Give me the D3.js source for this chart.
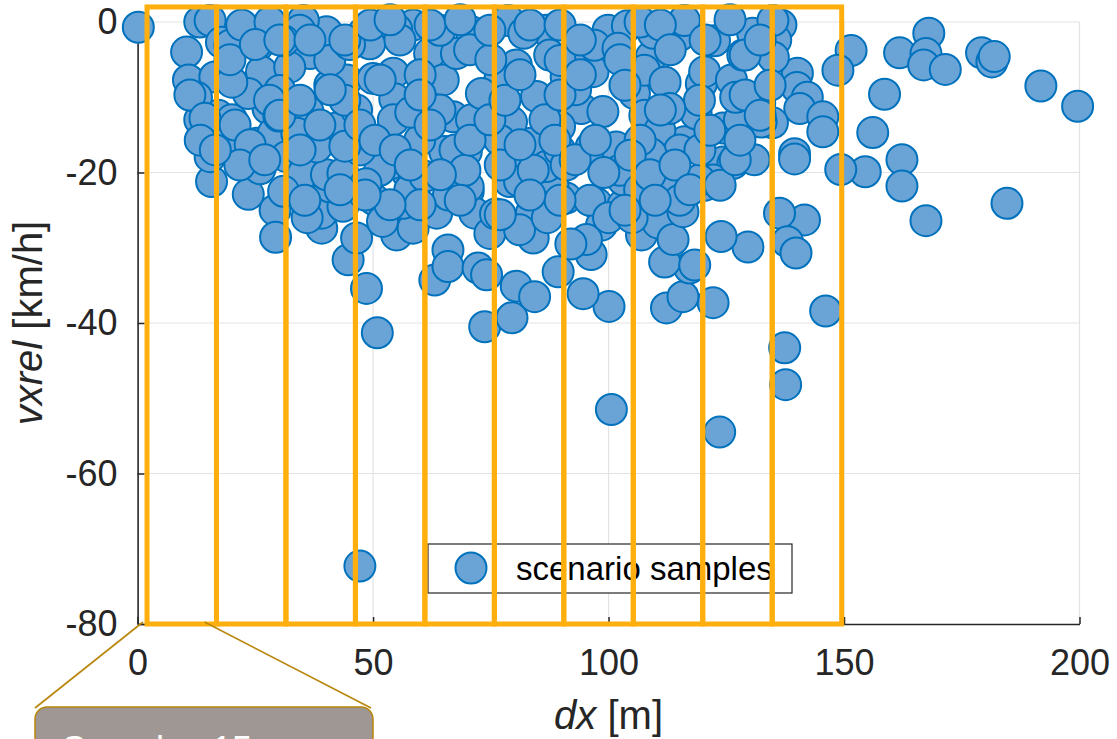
<!DOCTYPE html>
<html>
<head>
<meta charset="utf-8">
<script src="https://cdn.jsdelivr.net/npm/d3@7"></script>
<style>
  html, body { margin: 0; padding: 0; background: #fff; }
  svg { display: block; font-family: "Liberation Sans", Arial, Helvetica, sans-serif; }
</style>
</head>
<body>
<svg id="chart" width="1117" height="739"></svg>
<script>
// samples: dx [m] and vxrel [km/h]
var dxValues = [
  136.6,151.5,148.7,161.8,168,167.4,166.9,171.5,179.2,181.4,181.9,191.8,199.6,158.6,156.1,162.3,162.3,154.5,149.3,184.6,
  167.4,140.1,140,142.2,140.6,145.5,145.5,139.5,139.5,141.6,136.3,138,139.8,135.5,135,134.8,
  0.15,47.2,123.6,100.6,137.6,137.4,146.1,50.9,73.7,79.5,100.1,48.6,80.4,84.3,94.6,112.3,122.2,115.8,117.2,111.9,129.6,123.9,89.3,96.3,
  15.7,23.5,29.2,29.3,36.6,39.1,39.1,44.7,46.5,50.2,55,58.5,63.1,65.9,65.9,56.4,43.6,40.8,63.5,67.7,
  70.2,71.6,74.8,72.3,74.1,83.6,84,91,97.4,98.5,95.3,103.1,107,110.5,113.7,115.8,118.3,120.4,113.7,88.2,79,
  13.2,15.4,10.4,11.5,10.8,16.4,17.8,19.6,22.1,25.6,28.1,26.3,17.1,16.1,20,27.7,23.5,22.1,15.4,25.3,28.8,31.6,35.2,40.1,
  36.2,36.6,40.1,35.2,40.8,42.2,46.5,47.9,49.3,54.3,54.6,54.3,57.1,53.9,58.5,62,65.2,64.9,67,44.4,33.8,32.3,30.2,38,43.6,
  70.9,67.7,78.7,80.4,84.7,86.8,87.5,83.6,86.8,70.9,69.8,70.2,75.5,79.4,80.4,81.1,93.5,96.7,99.9,94.2,98.8,96.3,101.6,
  105.5,109.1,115.1,116.1,107.7,116.1,111.5,119.7,120.4,118.6,124.3,124.3,126.4,126.1,128.5,130.6,132.1,132.4,134.9,
  91,89.6,76.9,84,103.1,122.2,
  89.7,97,107.6,110.9,115.1,119.3,127.8,130.9,96,89.6,76.9,70.5,64.2,64.2,59.9,57.8,51.4,47.2,40.8,34.4,28,19.6,13.2,
  102.4,106.6,115.1,119.3,81.1,
  104,109.5,102,112,93,60,50,73,58,44,48.5,31,36,12.5,20,31,45,55,75,82,91,99,109,113,122.5,127,61,66,52,26,30,76,87,92,100,105,
  11.1,14.3,20.7,23.9,21.7,27,34.5,38.7,44,51.5,55.7,60,62.1,67.4,69.5,77,81.2,86.5,89.7,94,102.4,103.5,106.7,111,119.4,121.5,
  129,132.2,129,134.3,19.6,25,30.2,36.6,44,49.4,53.6,62.1,68.5,74.8,83.3,89.7,94,106.7,111,113.1,120.5,125.8,
  13.3,16.5,30.2,34.5,40.9,47.2,50.4,54.7,57.9,64.3,70.6,74.8,78,81.2,88.6,92.9,97.2,104.6,108.8,114.1,117.3,123.7,126.9,132.2,
  127.9,109.9,103.5,89.7,83.3,77,68.5,60,53.6,48.3,43,35.5
];
var vxrelValues = [
  -0.4,-3.8,-6.4,-4.1,-1.5,-4.2,-5.7,-6.3,-4.1,-5.3,-4.6,-8.5,-11.2,-9.6,-14.7,-18.3,-21.8,-19.9,-19.6,-24.1,
  -26.4,-6.8,-8.7,-10,-11.5,-12.6,-14.6,-17.5,-18.2,-26.3,-25.4,-29.2,-30.7,-2.4,-4.7,-13.4,
  -0.7,-72.3,-54.5,-51.5,-48.2,-43.3,-38.4,-41.3,-40.5,-39.3,-37.8,-35.4,-35.1,-36.5,-36.1,-38,-37.3,-36.5,-32.7,-31.9,-29.9,-28.5,-33.2,-30.9,
  -21.2,-22.9,-25,-28.6,-22.5,-27.4,-25.4,-31.6,-28.7,-23.6,-28.3,-27.4,-34.3,-30.3,-32.5,-24.1,-24.5,-21.9,-25.4,-22.8,
  -22.5,-25.4,-28.1,-32.7,-33.6,-25.4,-28.7,-23.4,-24.1,-27,-28.9,-24.3,-28.3,-26.7,-28.9,-25.2,-32.3,-21.7,-21.4,-21.7,-21.2,
  0,0.2,-4,-8.8,-7.7,-7.3,-2.7,-3.1,-0.4,-3.1,0,-6.6,-12.4,-13.7,-13,-11.5,-9.5,-16.6,-17.9,-16.1,-14.8,-17.9,-20.1,-20.3,
  -11.9,-4.2,-1.3,0.2,-8.4,-14.1,-11.7,-1.5,-2.9,-6.8,-10.2,-13,-19.9,-18.8,-0.4,-4.2,-17.2,-7.7,-12.6,-7.7,-14.8,-6,-9.1,-16.6,-20.1,
  -1.3,-4.2,0.2,-5.7,-9.9,-1.1,-4.4,-16.1,-19.2,-13,-17.2,-21.9,-10.4,-13.3,-17.5,-21.2,-3.3,-6.6,-1.1,-11.5,-11.9,-16.6,-16.6,
  -9.5,-4.6,-1.8,0.2,-12.4,-15.9,-20.5,-8.2,-6.6,-12.2,-14.1,-18.6,-18.8,-7.7,-4.4,-1.5,-10.8,-13.3,0.2,
  -7.3,-13.9,-15.7,-19.7,-21,-21,
  -5.1,-3.1,-6.4,-14.4,-17,-10.4,-13,-18.3,-23.7,-17,-7.7,-3.7,-1.1,-11.7,-15.7,-22.3,-19.7,-17,-5.1,-1.1,-10.4,-17,-13,
  -19.7,-22.3,-23.7,-21,-27.6,
  -0.5,-1.5,-3.5,-8,-9,-7,-7.5,-9.5,-12,-16.5,-21.5,-22.5,-26,-10,-8,-2.5,-3,-1,-5,-1.5,-19,-20,-17.5,-11.5,-2.5,-10,-20.5,-23,-26.5,-19.5,-12.5,-25.5,-26,-29.5,-26,-26,
  -9.7,-12.8,-13.7,-16.3,-19,-18.3,-17,-13.7,-10.4,-7.7,-2.4,-9.7,-13.7,-17,-19.7,-19,-16.3,-13,-9.7,-7,-5,-8.4,-15.7,-11.7,-17,-14.4,
  -4.4,-2.4,-9.7,-8.4,-5,-3,-2.4,-2.4,-2.4,-0.4,0.3,-0.4,0.3,-1.1,-0.4,-0.4,-2.4,0,-0.4,-3.7,-2.4,0.3,
  -15.7,-17,-12.4,-10.4,-9,-13.7,-15.7,-17,-19,-20.3,-15.7,-13,-10.4,-7,-15.7,-18.3,-15.7,-17.7,-20.3,-19,-22.3,-21.7,-18.3,-12.4,
  -15.7,-23.7,-25,-23.7,-23,-25.6,-23.7,-24.3,-24.3,-23,-22.3,-23.7
];
var binEdges = [2, 16.75, 31.5, 46.25, 61, 75.75, 90.5, 105.25, 120, 134.75, 149.5];
var xTicks = [0, 50, 100, 150, 200];
var yTicks = [-80, -60, -40, -20, 0];
var legendLabel = "scenario samples";
var calloutLabel = "Samples 15";

var samples = dxValues.map(function (d, i) { return {dx: d, v: vxrelValues[i]}; });

var svg = d3.select("#chart");
var plotLeft = 137.6, plotRight = 1079.5, plotTop = 22, plotBottom = 624;
var x = d3.scaleLinear().domain([0, 200]).range([plotLeft, plotRight]);
var y = d3.scaleLinear().domain([-80, 0]).range([plotBottom, plotTop]);
var ink = "#262626";
var plainNum = function (d) { return String(d); };

// grid
svg.append("g").selectAll("line")
  .data(xTicks.filter(function (d) { return d > 0; }))
  .enter().append("line")
  .attr("x1", function (d) { return x(d); }).attr("x2", function (d) { return x(d); })
  .attr("y1", plotTop).attr("y2", plotBottom)
  .attr("stroke", "#e3e3e3").attr("stroke-width", 1.2);
svg.append("g").selectAll("line")
  .data(yTicks.filter(function (d) { return d > -80; }))
  .enter().append("line")
  .attr("y1", function (d) { return y(d); }).attr("y2", function (d) { return y(d); })
  .attr("x1", plotLeft).attr("x2", plotRight)
  .attr("stroke", "#e3e3e3").attr("stroke-width", 1.2);

// axes
var xAxis = svg.append("g")
  .attr("transform", "translate(0," + plotBottom + ")")
  .call(d3.axisBottom(x).tickValues(xTicks).tickFormat(plainNum).tickSizeInner(-7).tickSizeOuter(0).tickPadding(25));
var yAxis = svg.append("g")
  .attr("transform", "translate(" + plotLeft + ",0)")
  .call(d3.axisLeft(y).tickValues(yTicks).tickFormat(plainNum).tickSizeInner(-7).tickSizeOuter(0).tickPadding(20));
[xAxis, yAxis].forEach(function (a) {
  a.select(".domain").attr("stroke", ink).attr("stroke-width", 1.6);
  a.selectAll(".tick line").attr("stroke", ink).attr("stroke-width", 1.5);
  a.selectAll(".tick text").attr("fill", ink)
    .style("font-size", "36px").style("font-family", "'Liberation Sans', Arial, sans-serif");
});

// axis labels
var xl = svg.append("text").attr("x", (plotLeft + plotRight) / 2).attr("y", 729)
  .attr("text-anchor", "middle").attr("fill", ink).style("font-size", "40px");
xl.append("tspan").style("font-style", "italic").text("dx");
xl.append("tspan").text(" [m]");
var yl = svg.append("text").attr("transform", "translate(42," + ((plotTop + plotBottom) / 2) + ") rotate(-90)")
  .attr("text-anchor", "middle").attr("fill", ink).style("font-size", "40px");
yl.append("tspan").style("font-style", "italic").text("vxrel");
yl.append("tspan").text(" [km/h]");

// samples
svg.append("g").selectAll("circle")
  .data(samples)
  .enter().append("circle")
  .attr("cx", function (d) { return x(d.dx); })
  .attr("cy", function (d) { return y(d.v); })
  .attr("r", 15.5)
  .attr("fill", "#6aa4d7")
  .attr("stroke", "#0072bd")
  .attr("stroke-width", 2);

// legend
var lg = svg.append("g");
lg.append("rect").attr("x", 428).attr("y", 544).attr("width", 364).attr("height", 49)
  .attr("fill", "#fff").attr("stroke", ink).attr("stroke-width", 1.2);
lg.append("circle").attr("cx", 471).attr("cy", 568).attr("r", 15.5)
  .attr("fill", "#6aa4d7").attr("stroke", "#0072bd").attr("stroke-width", 2);
lg.append("text").attr("x", 516).attr("y", 580).attr("fill", "#000")
  .style("font-size", "33px").text(legendLabel);

// bin rectangles
var bins = d3.pairs(binEdges);
svg.append("g").selectAll("rect")
  .data(bins)
  .enter().append("rect")
  .attr("x", function (d) { return x(d[0]); })
  .attr("width", function (d) { return x(d[1]) - x(d[0]); })
  .attr("y", y(2))
  .attr("height", y(-80) - y(2))
  .attr("fill", "none")
  .attr("stroke", "#ffaf0d")
  .attr("stroke-width", 5);

// callout for the first bin
var gold = "#b8860b";
var b0 = bins[0];
svg.append("line").attr("x1", x(b0[0]) - 4).attr("y1", plotBottom - 2).attr("x2", 35).attr("y2", 708)
  .attr("stroke", gold).attr("stroke-width", 1.6);
svg.append("line").attr("x1", x(b0[1]) - 12).attr("y1", plotBottom - 2).attr("x2", 371).attr("y2", 708)
  .attr("stroke", gold).attr("stroke-width", 1.6);
svg.append("rect").attr("x", 35).attr("y", 707).attr("width", 338).attr("height", 70).attr("rx", 12)
  .attr("fill", "#9e9794").attr("stroke", gold).attr("stroke-width", 1.5);
svg.append("text").attr("x", 62).attr("y", 762).attr("fill", "#fff")
  .style("font-size", "36px").text(calloutLabel);
</script>
</body>
</html>
